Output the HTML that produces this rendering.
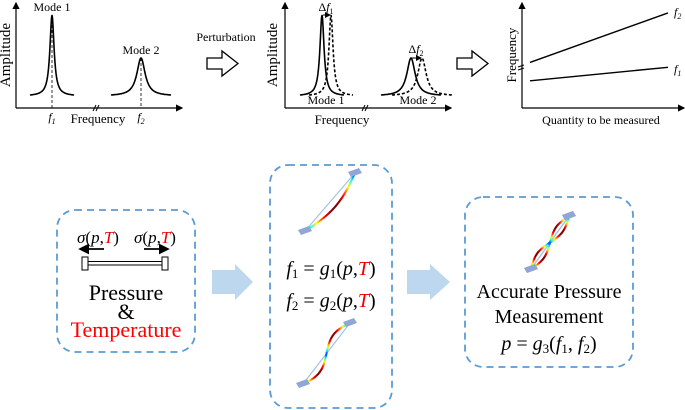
<!DOCTYPE html>
<html><head><meta charset="utf-8"><style>
body{margin:0;background:#fff}
svg{display:block}
text,tspan{font-family:"Liberation Serif","Times New Roman",serif}
</style></head><body>
<svg id="s" width="685" height="410" viewBox="0 0 685 410">
<defs>
<marker id="ah" markerWidth="6" markerHeight="6" refX="5" refY="3" orient="auto"><path d="M0,0L6,3L0,6z" fill="#000"/></marker>
</defs>
<!-- panel 1 -->
<g stroke="#000" fill="none">
<line x1="16" y1="108" x2="16" y2="3" stroke-width="1.2" marker-end="url(#ah)"/>
<line x1="16" y1="108" x2="182" y2="108" stroke-width="1.2" marker-end="url(#ah)"/>
<g id="p1"></g>
</g>
<text x="10" y="55" font-size="15" text-anchor="middle" transform="rotate(-90 10 55)">Amplitude</text>
<text x="52" y="11" font-size="12" text-anchor="middle">Mode 1</text>
<text x="141" y="54" font-size="12" text-anchor="middle">Mode 2</text>
<text x="52" y="121" font-size="12" font-style="italic" text-anchor="middle">f<tspan font-size="8" dy="3">1</tspan></text>
<text x="141" y="121" font-size="12" font-style="italic" text-anchor="middle">f<tspan font-size="8" dy="3">2</tspan></text>
<text x="98" y="123" font-size="13" text-anchor="middle">Frequency</text>
<text x="226" y="41" font-size="12" text-anchor="middle">Perturbation</text>
<path d="M207,58H222V51L238,63.5L222,76V69H207Z" fill="#fff" stroke="#000" stroke-width="1.3"/>
<!-- panel 2 -->
<g stroke="#000" fill="none">
<line x1="285" y1="108" x2="285" y2="3" stroke-width="1.2" marker-end="url(#ah)"/>
<line x1="285" y1="108" x2="451" y2="108" stroke-width="1.2" marker-end="url(#ah)"/>
<g id="p2"></g>
</g>
<text x="277" y="55" font-size="15" text-anchor="middle" transform="rotate(-90 277 55)">Amplitude</text>
<text x="326" y="11" font-size="12" text-anchor="middle">Δ<tspan font-style="italic">f</tspan><tspan font-size="8" dy="3">1</tspan></text>
<text x="416" y="53" font-size="12" text-anchor="middle">Δ<tspan font-style="italic">f</tspan><tspan font-size="8" dy="3">2</tspan></text>
<text x="326" y="104" font-size="12" text-anchor="middle">Mode 1</text>
<text x="418" y="104" font-size="12" text-anchor="middle">Mode 2</text>
<text x="342" y="124" font-size="13" text-anchor="middle">Frequency</text>
<path d="M457,58H472V51L488,63.5L472,76V69H457Z" fill="#fff" stroke="#000" stroke-width="1.3"/>
<!-- panel 3 -->
<g stroke="#000" fill="none">
<line x1="522" y1="108" x2="522" y2="3" stroke-width="1.2" marker-end="url(#ah)"/>
<line x1="522" y1="108" x2="684" y2="108" stroke-width="1.2" marker-end="url(#ah)"/>
<path d="M518,67l6,-2M518,70l6,-2" stroke-width="1"/>
<g id="p3"></g>
</g>
<text x="516" y="55" font-size="13" text-anchor="middle" transform="rotate(-90 516 55)">Frequency</text>
<text x="601" y="124" font-size="12" text-anchor="middle">Quantity to be measured</text>
<text x="674" y="16" font-size="12" font-style="italic">f<tspan font-size="8" dy="3">2</tspan></text>
<text x="674" y="73" font-size="12" font-style="italic">f<tspan font-size="8" dy="3">1</tspan></text>
<!-- box 1 -->
<rect x="57" y="210" width="138" height="142" rx="18" fill="none" stroke="#5b9bd5" stroke-width="1.8" stroke-dasharray="7,5"/>
<text x="98" y="243" font-size="17" text-anchor="middle"><tspan font-style="italic">σ</tspan>(<tspan font-style="italic">p</tspan>,<tspan font-style="italic" fill="#e00">T</tspan>)</text>
<text x="155" y="243" font-size="17" text-anchor="middle"><tspan font-style="italic">σ</tspan>(<tspan font-style="italic">p</tspan>,<tspan font-style="italic" fill="#e00">T</tspan>)</text>
<g stroke="#000" fill="#fff">
<line x1="104" y1="249" x2="80" y2="249" stroke-width="1.8" marker-end="url(#ah)"/>
<line x1="144" y1="249" x2="168" y2="249" stroke-width="1.8" marker-end="url(#ah)"/>
<rect x="82" y="257" width="6" height="13" stroke-width="1"/>
<rect x="162" y="257" width="6" height="13" stroke-width="1"/>
<rect x="88" y="261.5" width="74" height="3.5" stroke-width="1"/>
</g>
<text x="126" y="300" font-size="22" text-anchor="middle">Pressure</text>
<text x="126" y="319" font-size="22" text-anchor="middle">&amp;</text>
<text x="126" y="337" font-size="22" text-anchor="middle" fill="#f00">Temperature</text>
<path d="M212,270H235V264L253,282L235,300V294H212Z" fill="#bcd7ee"/>
<!-- box 2 -->
<rect x="270" y="165" width="122" height="243" rx="18" fill="none" stroke="#5b9bd5" stroke-width="1.8" stroke-dasharray="7,5"/>
<g id="beams"></g>
<text x="331" y="275" font-size="20" text-anchor="middle"><tspan font-style="italic">f</tspan><tspan font-size="13" dy="3">1</tspan><tspan dy="-3"> = </tspan><tspan font-style="italic">g</tspan><tspan font-size="13" dy="3">1</tspan><tspan dy="-3">(</tspan><tspan font-style="italic">p</tspan>,<tspan font-style="italic" fill="#e00">T</tspan>)</text>
<text x="331" y="307" font-size="20" text-anchor="middle"><tspan font-style="italic">f</tspan><tspan font-size="13" dy="3">2</tspan><tspan dy="-3"> = </tspan><tspan font-style="italic">g</tspan><tspan font-size="13" dy="3">2</tspan><tspan dy="-3">(</tspan><tspan font-style="italic">p</tspan>,<tspan font-style="italic" fill="#e00">T</tspan>)</text>
<path d="M407,270H430V264L450,282L430,300V294H407Z" fill="#bcd7ee"/>
<!-- box 3 -->
<rect x="465" y="197" width="168" height="170" rx="18" fill="none" stroke="#5b9bd5" stroke-width="1.8" stroke-dasharray="7,5"/>
<text x="549" y="298" font-size="20" text-anchor="middle">Accurate Pressure</text>
<text x="549" y="323" font-size="20" text-anchor="middle">Measurement</text>
<text x="549" y="350" font-size="20" text-anchor="middle"><tspan font-style="italic">p</tspan> = <tspan font-style="italic">g</tspan><tspan font-size="13" dy="3">3</tspan><tspan dy="-3">(</tspan><tspan font-style="italic">f</tspan><tspan font-size="13" dy="3">1</tspan><tspan dy="-3">, </tspan><tspan font-style="italic">f</tspan><tspan font-size="13" dy="3">2</tspan><tspan dy="-3">)</tspan></text>
</svg>
<script>
// data
const peakCenters1 = [52, 141];
const peakTops1 = [15, 58];
const peakCentersSolid2 = [322, 411];
const peakCentersDash2 = [331, 422];
const peakTops2 = [15, 58];
const quantity = [0, 1];
const f1Values = [0.28, 0.42];
const f2Values = [0.47, 0.98];
const NS="http://www.w3.org/2000/svg";
function mk(tag,attrs,parent){const e=document.createElementNS(NS,tag);for(const k in attrs)e.setAttribute(k,attrs[k]);parent.appendChild(e);return e;}
function lor(x0,top,base,w,span,dash,parent,name){
  let d="";for(let x=x0-span;x<=x0+span;x+=0.5){const y=base-(base-top)/(1+((x-x0)/w)**2);d+=(d?"L":"M")+x.toFixed(1)+","+y.toFixed(1);}
  const p=mk("path",{d:d,"stroke-width":1.6},parent);if(dash)p.setAttribute("stroke-dasharray","3,2");
  
  
}
const g1=document.getElementById("p1");
peakCenters1.forEach((c,i)=>{lor(c,peakTops1[i],96,i?5:2.5,i?30:22,false,g1,"peak-mode"+(i+1));
  const l=mk("line",{x1:c,y1:peakTops1[i],x2:c,y2:108,"stroke-dasharray":"3,2","stroke-width":0.8},g1);
  
  });
mk("path",{d:"M93,111l3,-6M96,111l3,-6","stroke-width":1},g1);
const g2=document.getElementById("p2");
peakCentersSolid2.forEach((c,i)=>{lor(c,peakTops2[i],96,i?5:2.5,i?30:22,false,g2,"solid-peak");
  lor(peakCentersDash2[i],peakTops2[i],96,i?5:2.5,i?30:22,true,g2,"dashed-peak");
  const a=mk("line",{x1:c+1,y1:peakTops2[i],x2:peakCentersDash2[i]-1,y2:peakTops2[i],"stroke-width":1,"marker-end":"url(#ah)"},g2);
  
  });
mk("path",{d:"M362,111l3,-6M365,111l3,-6","stroke-width":1},g2);
const g3=document.getElementById("p3");
const xs=q=>530+q*138, ys=v=>108-v*97;
[f1Values,f2Values].forEach((v,i)=>{const l=mk("line",{x1:xs(quantity[0]),y1:ys(v[0]),x2:xs(quantity[1]),y2:ys(v[1]),"stroke-width":1.4},g3);
  
  });
// beams
const gb=document.getElementById("beams");
function jet(v){const r=Math.min(1,Math.max(0,1.5-Math.abs(4*v-3))),g=Math.min(1,Math.max(0,1.5-Math.abs(4*v-2))),b=Math.min(1,Math.max(0,1.5-Math.abs(4*v-1)));return `rgb(${r*255|0},${g*255|0},${b*255|0})`;}
function beam(x1,y1,x2,y2,amp,waves){
  const pad=(x,y)=>{const r=mk("path",{d:`M${x-7},${y-1}l11,-4l3,5l-11,4z`,fill:"#8fa6d6"},gb);};
  mk("line",{x1:x1,y1:y1,x2:x2,y2:y2,stroke:"#a8bfe8","stroke-width":1.2},gb);
  const dx=x2-x1,dy=y2-y1,L=Math.hypot(dx,dy),nx=-dy/L,ny=dx/L;
  const pt=t=>{const o=amp*Math.sin(Math.PI*waves*t);return [x1+dx*t+nx*o,y1+dy*t+ny*o];};
  const N=40;
  for(let i=0;i<N;i++){const t0=i/N,t1=(i+1)/N,a=pt(t0),b=pt(t1);
    const v=Math.abs(Math.sin(Math.PI*waves*(t0+t1)/2));
    const s=mk("line",{x1:a[0].toFixed(1),y1:a[1].toFixed(1),x2:b[0].toFixed(1),y2:b[1].toFixed(1),stroke:jet(0.15+0.85*v),"stroke-width":2,"stroke-linecap":"round"},gb);
    }
  pad(x1,y1);pad(x2,y2);
}
beam(305,231,355,173,7,1);
beam(303,384,350,323,6,2);
beam(531,269,569,216,4,2);beam(531,269,569,216,-4,2);
</script>
</body></html>
